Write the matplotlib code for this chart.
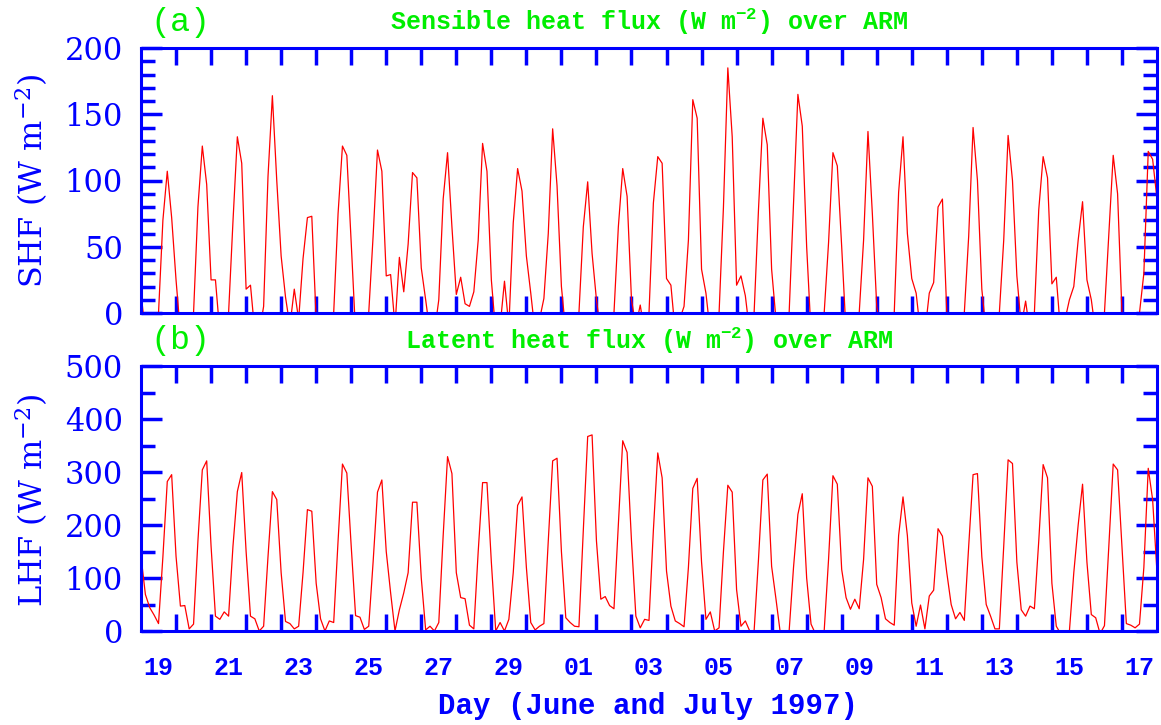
import numpy as np
import matplotlib
matplotlib.use("Agg")
import matplotlib.pyplot as plt
from matplotlib.ticker import MultipleLocator

# 3-hourly fluxes (00,03,...,21 UTC), 19 June - 17 July 1997, ARM SGP
# negative values at night are clipped by the y limits, as in the original
shf = [
    15, -15, -15, -15, 0, 70, 107, 72,      # Jun 19
    25, -15, -15, -15, 0, 80, 126, 97,      # Jun 20
    25, 25, -15, -15, 0, 69, 133, 113,      # Jun 21
    18, 21, -15, -15, 5, 103, 164, 100,     # Jun 22
    43, 12, -10, 18, -5, 41, 72, 73,        # Jun 23
    -5, -15, -15, -15, 0, 75, 126, 119,     # Jun 24
    53, -15, -15, -15, 0, 58, 123, 107,     # Jun 25
    28, 29, -10, 42, 16, 52, 106, 102,      # Jun 26
    34, 10, -15, -15, 10, 86, 121, 65,      # Jun 27
    14, 27, 7, 5, 16, 55, 128, 107,         # Jun 28
    25, -15, -10, 24, -10, 68, 109, 92,     # Jun 29
    43, 15, -15, -5, 11, 60, 139, 96,       # Jun 30
    20, -15, -15, -15, 0, 65, 99, 45,       # Jul 01
    10, -15, -15, -15, 0, 65, 109, 88,      # Jul 02
    10, -10, 6, -15, 0, 83, 118, 113,       # Jul 03
    26, 21, -15, -5, 5, 55, 161, 147,       # Jul 04
    33, 15, -15, -15, 0, 80, 185, 133,      # Jul 05
    21, 28, 13, -15, 0, 78, 147, 127,       # Jul 06
    33, -5, -15, -15, 0, 83, 165, 141,      # Jul 07
    50, -15, -15, -15, 0, 53, 121, 111,     # Jul 08
    50, -15, -15, -15, 0, 55, 137, 75,      # Jul 09
    5, -15, -15, -15, 0, 91, 133, 60,       # Jul 10
    26, 15, -15, -15, 15, 23, 80, 86,       # Jul 11
    0, -15, -15, -15, 0, 58, 140, 100,      # Jul 12
    18, -15, -15, -15, 0, 55, 134, 100,     # Jul 13
    28, -10, 9, -15, 0, 78, 118, 102,       # Jul 14
    22, 27, -15, -5, 10, 20, 55, 84,        # Jul 15
    25, 10, -15, -15, 0, 60, 119, 90,       # Jul 16
    0, -15, -15, -15, 0, 30, 122, 116,      # Jul 17
    86,
]

lhf = [
    141, 69, 44, 30, 14, 140, 282, 295,     # Jun 19
    141, 47, 48, 4, 13, 170, 304, 321,      # Jun 20
    160, 28, 22, 36, 28, 160, 263, 299,     # Jun 21
    150, 28, 23, 0, 9, 140, 263, 248,       # Jun 22
    110, 18, 14, 4, 9, 110, 229, 226,       # Jun 23
    90, 23, 0, 19, 16, 170, 315, 298,       # Jun 24
    160, 29, 26, 3, 9, 130, 262, 285,       # Jun 25
    150, 72, 0, 40, 72, 110, 243, 243,      # Jun 26
    100, 2, 9, 0, 16, 180, 329, 297,        # Jun 27
    110, 63, 61, 11, 4, 150, 280, 280,      # Jun 28
    130, 0, 16, 0, 22, 110, 237, 253,       # Jun 29
    120, 16, 2, 9, 14, 170, 321, 326,       # Jun 30
    150, 25, 16, 9, 8, 190, 367, 370,       # Jul 01
    170, 60, 65, 48, 42, 200, 359, 337,     # Jul 02
    170, 28, 6, 22, 20, 190, 336, 289,      # Jul 03
    113, 47, 19, 14, 8, 120, 269, 288,      # Jul 04
    130, 22, 36, 0, 6, 150, 275, 262,       # Jul 05
    78, 9, 19, 0, 0, 135, 285, 296,         # Jul 06
    122, 60, -5, -5, 0, 120, 220, 259,      # Jul 07
    100, 13, -5, -5, 0, 135, 293, 277,      # Jul 08
    116, 63, 41, 60, 42, 135, 289, 273,     # Jul 09
    88, 63, 23, 16, 11, 180, 253, 180,      # Jul 10
    53, 9, 49, 4, 66, 77, 193, 179,         # Jul 11
    110, 50, 23, 35, 20, 160, 295, 297,     # Jul 12
    140, 50, 28, 4, 4, 160, 323, 316,       # Jul 13
    130, 40, 28, 47, 42, 170, 314, 289,     # Jul 14
    90, 9, -5, -5, 0, 110, 200, 277,        # Jul 15
    130, 31, 25, -5, 10, 160, 315, 304,     # Jul 16
    160, 14, 11, 6, 13, 120, 307, 248,      # Jul 17
    110,
]

day_labels = ["19", "21", "23", "25", "27", "29",
              "01", "03", "05", "07", "09", "11", "13", "15", "17"]
panel_titles = ["Sensible heat flux (W m$\\mathregular{^{-2}}$) over ARM",
                "Latent heat flux (W m$\\mathregular{^{-2}}$) over ARM"]
ylabels = ["SHF (W m$\\mathregular{^{-2}}$)", "LHF (W m$\\mathregular{^{-2}}$)"]

BLUE = "#0000ff"
GREEN = "#00ee00"
MONO = "Liberation Mono"
SERIF = "DejaVu Serif"

t = np.arange(len(shf)) / 8.0   # days since 19 June 00 UTC

W, H = 1161, 725
fig = plt.figure(figsize=(W / 100, H / 100), dpi=100)

# axes boxes in pixels: left, top, right, bottom
boxes = [(141, 48, 1157, 313), (141, 366, 1157, 631)]
series = [shf, lhf]
ylims = [(0, 200), (0, 500)]
ymaj = [50, 100]
ymin = [10, 50]

for i in range(2):
    l, tp, r, b = boxes[i]
    ax = fig.add_axes([l / W, 1 - b / H, (r - l) / W, (b - tp) / H])
    ax.plot(t, series[i], color="red", lw=0.9)
    ax.set_xlim(0, 29)
    ax.set_ylim(*ylims[i])

    for sp in ax.spines.values():
        sp.set_color(BLUE)
        sp.set_linewidth(2.2)

    # day boundaries as tick marks, labels at mid-day
    ax.set_xticks(np.arange(1, 29), minor=True)
    ax.set_xticks(np.arange(0, 29, 2) + 0.5)
    ax.tick_params(axis="x", which="minor", direction="in", top=True, bottom=True,
                   length=12, width=2.5, color=BLUE)
    ax.tick_params(axis="x", which="major", length=0, pad=18)
    if i == 1:
        ax.set_xticklabels(day_labels, fontfamily=MONO, fontweight="bold",
                           fontsize=18, color=BLUE)
    else:
        ax.set_xticklabels([])

    ax.yaxis.set_major_locator(MultipleLocator(ymaj[i]))
    ax.yaxis.set_minor_locator(MultipleLocator(ymin[i]))
    ax.tick_params(axis="y", which="both", direction="in", left=True, right=True,
                   width=2.5, color=BLUE)
    ax.tick_params(axis="y", which="major", length=15, pad=13)
    ax.tick_params(axis="y", which="minor", length=10)
    for lab in ax.get_yticklabels():
        lab.set_fontfamily(SERIF)
        lab.set_fontsize(22)
        lab.set_color(BLUE)

    # panel letter and title above each panel
    ty = 1 - (22 if i == 0 else 341) / H
    fig.text(150 / W, ty, "(%s)" % "ab"[i], fontfamily=MONO, fontsize=24,
             color=GREEN, ha="left", va="center")
    fig.text(649 / W, ty, panel_titles[i], fontfamily=MONO, fontweight="bold",
             fontsize=18, color=GREEN, ha="center", va="center")

    cy = 1 - (181 if i == 0 else 500) / H
    fig.text(32 / W, cy, ylabels[i], fontfamily=SERIF, fontsize=23, color=BLUE,
             rotation=90, ha="center", va="center")

fig.text(648 / W, 1 - 706 / H, "Day (June and July 1997)", fontfamily=MONO,
         fontweight="bold", fontsize=21, color=BLUE, ha="center", va="center")

fig.savefig("out.png", dpi=100)
